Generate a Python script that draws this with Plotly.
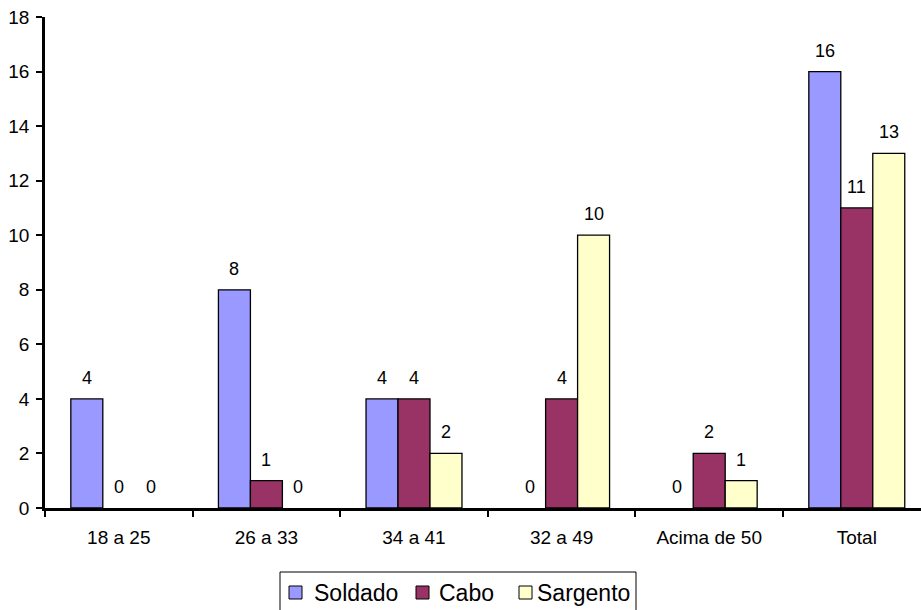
import plotly.graph_objects as go

# Age groups and counts per rank
categories = ["18 a 25", "26 a 33", "34 a 41", "32 a 49", "Acima de 50", "Total"]
soldado = [4, 8, 4, 0, 0, 16]
cabo = [0, 1, 4, 4, 2, 11]
sargento = [0, 0, 2, 10, 1, 13]

series = [
    ("Soldado", soldado, "#9999FF"),
    ("Cabo", cabo, "#993366"),
    ("Sargento", sargento, "#FFFFCC"),
]

FONT = "Liberation Sans, Arial"
BARGAP = 0.35
bar_w = (1 - BARGAP) / len(series)

fig = go.Figure()
annotations = []
for i, (name, values, color) in enumerate(series):
    fig.add_trace(go.Bar(
        name=name,
        x=categories,
        y=values,
        marker=dict(
            color=color,
            # no outline on empty bars so the baseline stays clean
            line=dict(color="black", width=[1.3 if v else 0 for v in values]),
        ),
        showlegend=False,
    ))
    # value labels above each bar
    offset = (i - (len(series) - 1) / 2) * bar_w
    for j, v in enumerate(values):
        annotations.append(dict(
            x=j + offset, y=v, xref="x", yref="y",
            text=str(v), showarrow=False,
            xanchor="center", yanchor="bottom", yshift=9,
            font=dict(family=FONT, size=18, color="black"),
        ))

# legend drawn as a framed box with swatches
def px_x(px):
    return (px - 45) / 876

def px_y(py):
    return (508 - py) / 491

shapes = [dict(
    type="rect", xref="paper", yref="paper",
    x0=px_x(280), x1=px_x(636), y0=px_y(572), y1=px_y(625),
    line=dict(color="black", width=1), fillcolor="white", layer="above",
)]
legend_items = [(289, 312), (416, 437), (519, 535)]
for (sx, tx), (name, _, color) in zip(legend_items, series):
    shapes.append(dict(
        type="rect", xref="paper", yref="paper",
        x0=px_x(sx), x1=px_x(sx + 13), y0=px_y(586), y1=px_y(599),
        line=dict(color="black", width=1), fillcolor=color, layer="above",
    ))
    annotations.append(dict(
        x=px_x(tx), y=px_y(593), xref="paper", yref="paper",
        text=name, showarrow=False, xanchor="left", yanchor="middle",
        font=dict(family=FONT, size=23, color="black"),
    ))

fig.update_layout(
    width=921,
    height=610,
    margin=dict(l=45, r=0, t=17, b=102, autoexpand=False),
    paper_bgcolor="white",
    plot_bgcolor="white",
    barmode="group",
    bargap=BARGAP,
    bargroupgap=0,
    font=dict(family=FONT, size=19, color="black"),
    showlegend=False,
    annotations=annotations,
    shapes=shapes,
)

fig.update_xaxes(
    type="category",
    range=[-0.5, 5.435],
    showline=True,
    linecolor="black",
    linewidth=2.5,
    ticks="outside",
    tickson="boundaries",
    ticklen=6,
    tickwidth=2,
    tickcolor="black",
    showgrid=False,
    ticklabelstandoff=10,
    tickfont=dict(size=19),
)

fig.update_yaxes(
    range=[0, 18],
    dtick=2,
    showline=True,
    linecolor="black",
    linewidth=2.5,
    ticks="outside",
    ticklen=6,
    tickwidth=2,
    tickcolor="black",
    showgrid=False,
    zeroline=False,
    ticklabelstandoff=3,
    tickfont=dict(size=19),
)

fig.write_html("out.html")
